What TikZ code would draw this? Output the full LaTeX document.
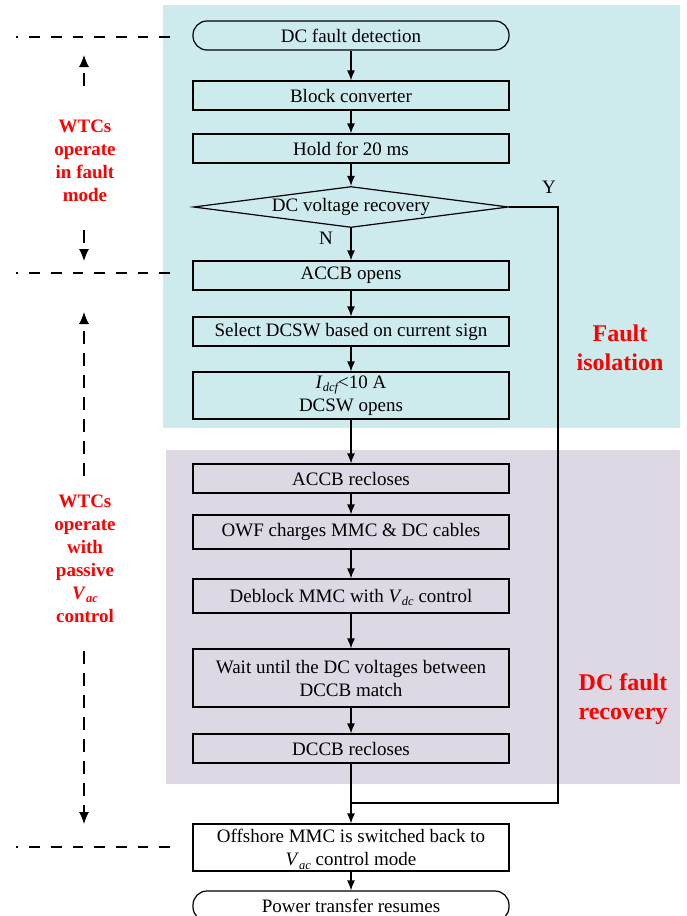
\documentclass[tikz,border=0pt]{standalone}
\usepackage{fontspec}
\setmainfont{Liberation Serif}
\usetikzlibrary{arrows.meta,shapes.geometric}
\definecolor{cyanbg}{RGB}{205,234,236}
\definecolor{purplebg}{RGB}{222,215,228}
\newcommand\subs[1]{\raisebox{-0.4ex}[0pt][0pt]{\fontsize{12.5}{12.5}\selectfont\itshape #1}}
\begin{document}
\begin{tikzpicture}[x=1pt,y=-1pt,
  box/.style={draw,line width=1.2pt,minimum width=316pt,minimum height=29pt,inner sep=0pt,align=center,font=\fontsize{19}{23}\selectfont},
  term/.style={box,rounded corners=14pt},
  dia/.style={draw,shape=diamond,aspect=7.7,minimum width=315pt,minimum height=41pt,inner sep=0pt,line width=1.2pt,font=\fontsize{19}{23}\selectfont},
  arr/.style={line width=1.2pt,-{Latex[length=10pt,width=8pt]}},
  conn/.style={line width=1.2pt},
  hdash/.style={line width=1.1pt,dash pattern=on 10.7pt off 11pt},
  vdash/.style={line width=1.1pt,dash pattern=on 13pt off 9pt,-{Latex[length=12pt,width=10pt]}},
  lbl/.style={text=red,align=center,font=\fontsize{19}{23}\selectfont\bfseries},
  biglbl/.style={text=red,align=center,font=\fontsize{24}{29}\selectfont\bfseries},
  yn/.style={font=\fontsize{19}{23}\selectfont}
]
\useasboundingbox (0,0) rectangle (686,916);
\fill[white] (0,0) rectangle (686,916);
\fill[cyanbg] (163,5) rectangle (680,428);
\fill[purplebg] (166,450) rectangle (680,784);

% flowchart nodes
\node[term] (n1) at (351,35.5) {DC fault detection};
\node[box] (n2) at (351,95.5) {Block converter};
\node[box] (n3) at (351,148.5) {Hold for 20 ms};
\node[dia] (n4) at (351,207) {DC voltage recovery};
\node[box] (n5) at (351,275.5) {ACCB opens};
\node[box] (n6) at (351,331.5) {Select DCSW based on current sign};
\node[box,minimum height=47pt] (n7) at (351,395.5) {\textit{I}\subs{dcf}<10 A\\DCSW opens};
\node[box] (n8) at (351,478.5) {ACCB recloses};
\node[box,minimum height=34pt] (n9) at (351,532) {OWF charges MMC \& DC cables};
\node[box,minimum height=34pt] (n10) at (351,596) {Deblock MMC with \textit{V}\subs{dc} control};
\node[box,minimum height=58pt] (n11) at (351,678) {Wait until the DC voltages between\\DCCB match};
\node[box] (n12) at (351,748.5) {DCCB recloses};
\node[box,minimum height=47pt] (n13) at (351,847.5) {Offshore MMC is switched back to\\\textit{V}\subs{ac} control mode};
\node[term,minimum height=30pt] (n14) at (351,906) {Power transfer resumes};

% connectors
\draw[arr] (n1.south) -- (n2.north);
\draw[arr] (n2.south) -- (n3.north);
\draw[arr] (n3.south) -- (n4.north);
\draw[arr] (n4.south) -- (n5.north);
\draw[arr] (n5.south) -- (n6.north);
\draw[arr] (n6.south) -- (n7.north);
\draw[arr] (n7.south) -- (n8.north);
\draw[arr] (n8.south) -- (n9.north);
\draw[arr] (n9.south) -- (n10.north);
\draw[arr] (n10.south) -- (n11.north);
\draw[arr] (n11.south) -- (n12.north);
\draw[arr] (n12.south) -- (n13.north);
\draw[arr] (n13.south) -- (n14.north);
\coordinate (yr) at (558,207);
\coordinate (yb) at (558,803);
\coordinate (jn) at (351,803);
\draw[conn] (n4.east) -- (yr) -- (yb) -- (jn);
\node[yn] (ylab) at (549,187) {Y};
\node[yn] (nlab) at (326,238) {N};

% region labels
\node[biglbl] (fi) at (620,347.5) {Fault\\isolation};
\node[biglbl] (dfr) at (623,699) {DC fault\\recovery};

% left annotations
\coordinate (d1a) at (170,37); \coordinate (d1b) at (16,37);
\coordinate (d2a) at (170,273); \coordinate (d2b) at (16,273);
\coordinate (d3a) at (170,847); \coordinate (d3b) at (16,847);
\draw[hdash] (d1a) -- (d1b);
\draw[hdash] (d2a) -- (d2b);
\draw[hdash] (d3a) -- (d3b);

\node[lbl] (L1) at (85,160.5) {WTCs\\operate\\in fault\\mode};
\node[lbl] (L2) at (85,558.5) {WTCs\\operate\\with\\passive\\\textit{V}\subs{ac}\\control};

\coordinate (a1s) at (84,86);  \coordinate (a1t) at (84,55);
\coordinate (a2s) at (84,230); \coordinate (a2t) at (84,261);
\coordinate (a3s) at (84,476); \coordinate (a3t) at (84,312);
\coordinate (a4s) at (84,651); \coordinate (a4t) at (84,824);
\draw[vdash] (a1s) -- (a1t);
\draw[vdash] (a2s) -- (a2t);
\draw[vdash] (a3s) -- (a3t);
\draw[vdash] (a4s) -- (a4t);
\end{tikzpicture}
\end{document}
